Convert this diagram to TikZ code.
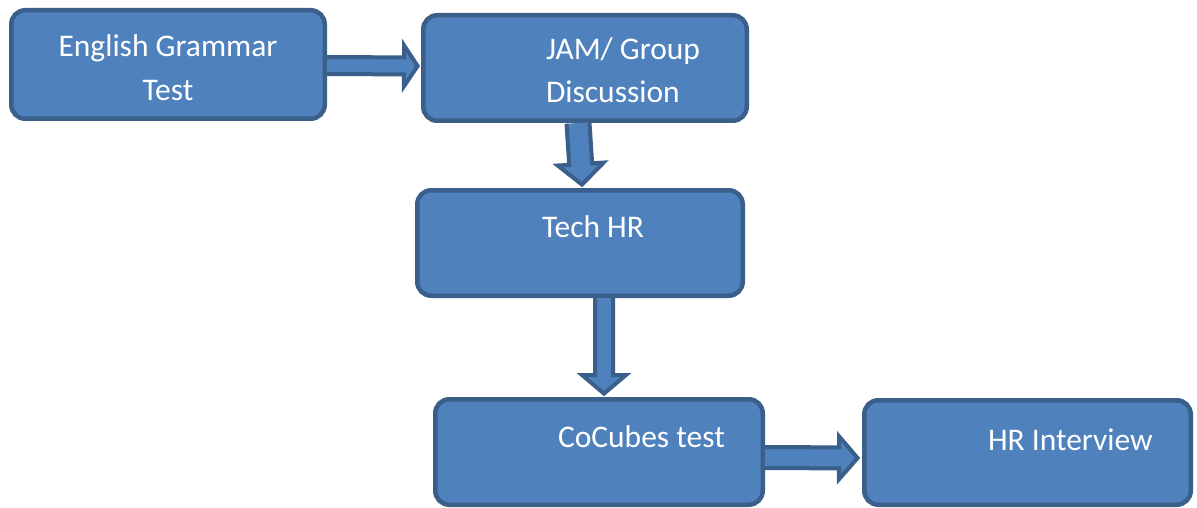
\documentclass[tikz,border=0pt]{standalone}
\usepackage{fontspec}
\setmainfont{Carlito}
\usetikzlibrary{calc}
\definecolor{boxfill}{HTML}{4F81BD}
\definecolor{boxline}{HTML}{3A5F8B}
\tikzset{
  stagebox/.style={draw=boxline, fill=boxfill, line width=4.5pt, rounded corners=14pt, inner sep=0pt},
  txt/.style={text=white, inner sep=0pt, outer sep=0pt, font=\fontsize{31.5}{44}\selectfont},
  arrowbody/.style={draw=boxline, fill=boxfill, line width=4pt, line join=miter},
}
% #1 shaft half width, #2 head half width, #3 head length, #4 start, #5 tip
\newcommand\blockarrow[5]{%
  \coordinate (H) at ($(#5)!#3!(#4)$);
  \draw[arrowbody] ($(#4)!#1!90:(#5)$) -- ($(H)!#1!90:(#5)$) -- ($(H)!#2!90:(#5)$) -- (#5)
     -- ($(H)!#2!-90:(#5)$) -- ($(H)!#1!-90:(#5)$) -- ($(#4)!#1!-90:(#5)$);
}
\begin{document}
\begin{tikzpicture}[x=1pt,y=-1pt]
\useasboundingbox (0,0) rectangle (1197,508);
\fill[white] (0,0) rectangle (1197,508);
% boxes
\node[stagebox, minimum width=313.5pt, minimum height=108.5pt] (b1) at (168,64.5) {};
\node[stagebox, minimum width=323.5pt, minimum height=105.5pt] (b2) at (585,68) {};
\node[stagebox, minimum width=325.5pt, minimum height=105.5pt] (b3) at (580,243) {};
\node[stagebox, minimum width=327.5pt, minimum height=105.5pt] (b4) at (599,452) {};
\node[stagebox, minimum width=326.5pt, minimum height=104.5pt] (b5) at (1027.5,452.5) {};
% texts
\begin{scope}
  \clip (b1.north west) rectangle ($(b1.south east)+(0,-19.5)$);
  \node[txt, anchor=base] (t1a) at ($(b1.north)+(0,49)$) {English Grammar};
  \node[txt, anchor=base] (t1b) at ($(b1.north)+(0,93)$) {Test};
\end{scope}
\begin{scope}
  \clip (b2.north west) rectangle ($(b2.south east)+(0,-19.5)$);
  \node[txt, anchor=base west] (t2a) at ($(b2.north west)+(125,47)$) {JAM/ Group};
  \node[txt, anchor=base west] (t2b) at ($(b2.north west)+(125,90)$) {Discussion};
\end{scope}
\node[txt, anchor=base west] (t3) at ($(b3.north west)+(127,49)$) {Tech HR};
\node[txt, anchor=base west] (t4) at ($(b4.north west)+(125,50)$) {CoCubes test};
\node[txt, anchor=base west] (t5) at ($(b5.north west)+(126,52)$) {HR Interview};
% arrow ends
\coordinate (a1s) at ($(b1.east)+(0,1)$);
\coordinate (a1t) at ($(b2.west)+(-3.4,-2)$);
\coordinate (a2s) at ($(b2.south)+(-7,0)$);
\coordinate (a2t) at ($(b3.north)+(2,-3.4)$);
\coordinate (a3s) at ($(b3.south)+(24,0)$);
\coordinate (a3t) at ($(b4.north)+(5,-3.4)$);
\coordinate (a4s) at ($(b4.east)+(0,5.5)$);
\coordinate (a4t) at ($(b5.west)+(-4.4,5.5)$);
% arrows
\blockarrow{8.5pt}{20.5pt}{13.6pt}{a1s}{a1t}
\blockarrow{11.5pt}{23pt}{20.6pt}{a2s}{a2t}
\blockarrow{9pt}{22pt}{18.6pt}{a3s}{a3t}
\blockarrow{10.5pt}{21.5pt}{18.6pt}{a4s}{a4t}
\end{tikzpicture}
\end{document}
